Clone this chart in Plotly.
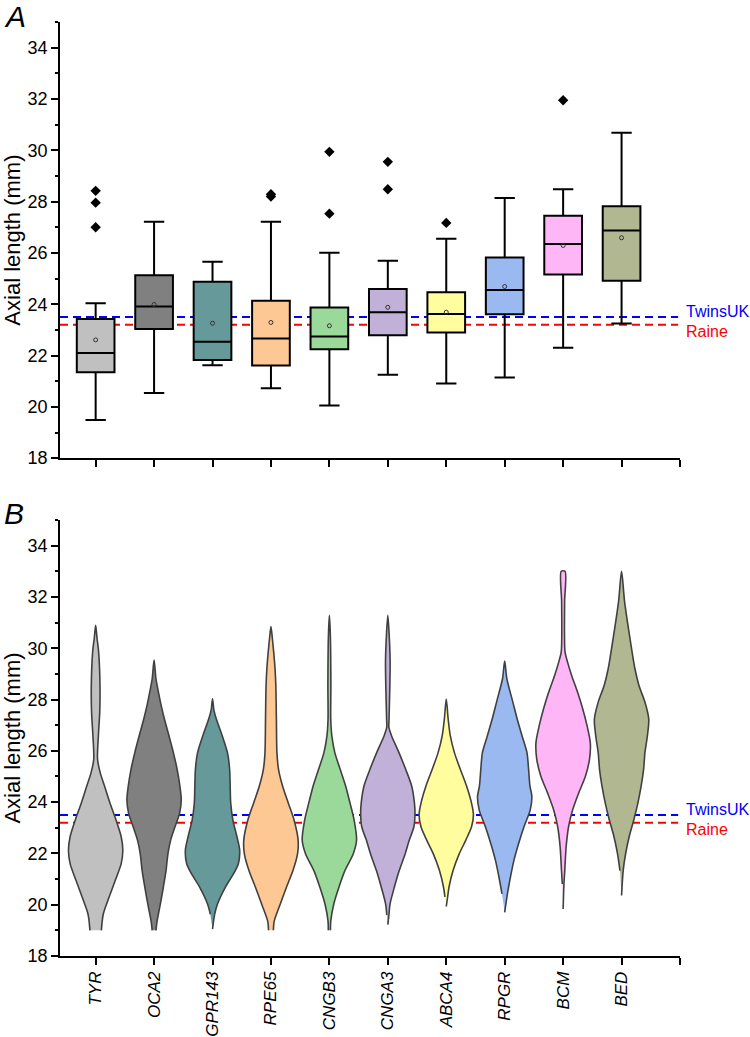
import plotly.graph_objects as go
from plotly.subplots import make_subplots

genes = ['TYR', 'OCA2', 'GPR143', 'RPE65', 'CNGB3', 'CNGA3', 'ABCA4', 'RPGR', 'BCM', 'BED']
colors = ['#c0c0c0', '#808080', '#669999', '#fdc894', '#9bd99b',
          '#c1b1d8', '#fffd9e', '#9ab9f0', '#ffb6f6', '#b1b891']

# box plot statistics (mm)
low_whisker = [19.49, 20.54, 21.62, 20.73, 20.05, 21.25, 20.91, 21.14, 22.30, 23.25]
q1 = [21.35, 23.03, 21.83, 21.61, 22.25, 22.79, 22.90, 23.61, 25.16, 24.92]
median = [22.10, 23.91, 22.54, 22.66, 22.74, 23.69, 23.62, 24.55, 26.35, 26.87]
q3 = [23.42, 25.13, 24.88, 24.14, 23.87, 24.59, 24.47, 25.82, 27.45, 27.82]
high_whisker = [24.04, 27.21, 25.66, 27.21, 26.01, 25.69, 26.55, 28.14, 28.48, 30.68]
mean = [22.61, 23.99, 23.26, 23.29, 23.16, 23.88, 23.69, 24.69, 26.29, 26.59]

outlier_gene = ['TYR', 'TYR', 'TYR', 'RPE65', 'RPE65', 'CNGB3', 'CNGB3',
                'CNGA3', 'CNGA3', 'ABCA4', 'BCM']
outlier_value = [28.42, 27.96, 27.00, 28.29, 28.20, 29.94, 27.53,
                 29.55, 28.48, 27.17, 31.95]

# reference means
twinsuk = 23.5
raine = 23.2

# violin density profiles: axial length levels and relative width (max = 1)
tyr_y = [19.0, 19.63, 20.28, 20.94, 21.6, 22.12, 22.65, 23.3, 23.96, 24.62, 25.14, 25.67, 26.58, 27.5, 28.55, 29.86, 30.4, 30.89]
tyr_w = [0.21, 0.28, 0.49, 0.72, 0.94, 1.0, 0.94, 0.75, 0.53, 0.33, 0.17, 0.07, 0.10, 0.15, 0.16, 0.11, 0.05, 0.0]
oca2_y = [19.0, 19.36, 20.02, 20.68, 21.33, 21.99, 22.52, 23.04, 23.57, 24.09, 24.62, 25.27, 25.93, 26.58, 27.24, 27.77, 28.29, 28.81, 29.54]
oca2_w = [0.07, 0.11, 0.23, 0.34, 0.44, 0.51, 0.61, 0.77, 0.94, 1.0, 0.95, 0.85, 0.71, 0.55, 0.38, 0.26, 0.16, 0.07, 0.0]
gpr143_y = [19.05, 19.63, 20.02, 20.68, 21.2, 21.6, 22.12, 22.65, 23.3, 23.96, 24.62, 25.27, 25.93, 26.58, 27.24, 27.6, 28.03]
gpr143_w = [0.0, 0.08, 0.18, 0.47, 0.77, 0.95, 1.0, 0.9, 0.75, 0.67, 0.65, 0.63, 0.55, 0.36, 0.14, 0.05, 0.0]
rpe65_y = [19.0, 19.36, 20.02, 20.68, 21.33, 21.99, 22.52, 23.3, 23.96, 24.62, 25.27, 25.93, 27.24, 28.55, 29.21, 29.86, 30.4, 30.85]
rpe65_w = [0.09, 0.12, 0.34, 0.57, 0.81, 0.98, 1.0, 0.85, 0.64, 0.43, 0.28, 0.22, 0.20, 0.18, 0.15, 0.10, 0.05, 0.0]
cngb3_y = [19.0, 19.36, 20.02, 20.68, 21.33, 21.99, 22.52, 23.3, 23.96, 24.62, 25.27, 25.93, 26.58, 27.24, 28.55, 30.52, 31.28]
cngb3_w = [0.04, 0.05, 0.16, 0.35, 0.57, 0.88, 1.0, 0.91, 0.76, 0.60, 0.40, 0.20, 0.09, 0.05, 0.055, 0.035, 0.0]
cnga3_y = [19.22, 19.6, 20.02, 20.68, 21.33, 21.99, 22.52, 23.04, 23.57, 23.96, 24.62, 25.27, 25.93, 26.58, 26.91, 27.24, 28.55, 29.5, 30.52, 31.28]
cnga3_w = [0.0, 0.04, 0.08, 0.24, 0.42, 0.64, 0.79, 0.96, 1.0, 0.98, 0.88, 0.66, 0.41, 0.14, 0.04, 0.045, 0.075, 0.085, 0.05, 0.0]
abca4_y = [19.93, 20.3, 20.68, 21.33, 21.99, 22.52, 23.04, 23.5, 23.96, 24.62, 25.27, 25.93, 26.58, 27.24, 28.02]
abca4_w = [0.0, 0.05, 0.10, 0.25, 0.48, 0.72, 0.93, 1.0, 0.93, 0.75, 0.52, 0.30, 0.15, 0.07, 0.0]
rpgr_y = [19.7, 20.42, 21.07, 21.73, 22.38, 23.04, 23.7, 24.22, 24.62, 25.27, 25.93, 26.58, 27.24, 27.9, 28.81, 29.5]
rpgr_w = [0.0, 0.10, 0.21, 0.34, 0.51, 0.71, 0.94, 1.0, 0.93, 0.88, 0.82, 0.64, 0.46, 0.30, 0.08, 0.0]
bcm_y = [19.83, 20.81, 21.33, 22.25, 23.04, 23.7, 24.35, 25.01, 25.67, 26.32, 26.98, 27.64, 28.29, 28.95, 29.47, 29.86, 30.52, 31.83, 33.0]
bcm_w = [0.0, 0.03, 0.06, 0.11, 0.20, 0.35, 0.57, 0.82, 0.97, 1.0, 0.88, 0.72, 0.53, 0.31, 0.16, 0.07, 0.05, 0.055, 0.07]
bed_y = [20.36, 21.33, 21.99, 22.65, 23.3, 23.96, 24.62, 25.27, 25.93, 26.58, 27.24, 27.9, 28.55, 29.21, 30.52, 31.83, 33.0]
bed_w = [0.0, 0.06, 0.15, 0.28, 0.45, 0.60, 0.72, 0.81, 0.86, 0.95, 1.0, 0.86, 0.64, 0.49, 0.29, 0.11, 0.0]

violin_y = [tyr_y, oca2_y, gpr143_y, rpe65_y, cngb3_y, cnga3_y, abca4_y, rpgr_y, bcm_y, bed_y]
violin_w = [tyr_w, oca2_w, gpr143_w, rpe65_w, cngb3_w, cnga3_w, abca4_w, rpgr_w, bcm_w, bed_w]

pos = list(range(1, len(genes) + 1))
font = 'Arial, Liberation Sans, sans-serif'
half_max = 0.465

fig = make_subplots(rows=2, cols=1)

# reference lines (drawn under the boxes / violins)
for row, xd in [(1, 'x domain'), (2, 'x2 domain')]:
    yr = 'y' if row == 1 else 'y2'
    for val, col in [(twinsuk, '#0000ff'), (raine, '#ff0000')]:
        fig.add_shape(type='line', xref=xd, yref=yr, x0=0, x1=0.997, y0=val, y1=val,
                      line=dict(color=col, width=2, dash='8px,5px'), layer='below')
    fig.add_annotation(xref=xd, yref=yr, x=1.006, y=twinsuk + 0.22, text='TwinsUK',
                       showarrow=False, xanchor='left', yanchor='middle',
                       font=dict(family=font, size=16, color='#0000ff'))
    fig.add_annotation(xref=xd, yref=yr, x=1.006, y=raine - 0.28, text='Raine',
                       showarrow=False, xanchor='left', yanchor='middle',
                       font=dict(family=font, size=16, color='#ff0000'))

# panel A: boxes
for i, g in enumerate(genes):
    fig.add_trace(go.Box(x=[pos[i]], q1=[q1[i]], median=[median[i]], q3=[q3[i]],
                         lowerfence=[low_whisker[i]], upperfence=[high_whisker[i]],
                         width=0.645, whiskerwidth=0.54, fillcolor=colors[i],
                         line=dict(color='black', width=2), boxpoints=False, name=g),
                  row=1, col=1)

fig.add_trace(go.Scatter(x=pos, y=mean, mode='markers',
                         marker=dict(symbol='circle-open', size=4, color='#333333',
                                     line=dict(width=1))),
              row=1, col=1)
fig.add_trace(go.Scatter(x=[pos[genes.index(g)] for g in outlier_gene], y=outlier_value,
                         mode='markers',
                         marker=dict(symbol='diamond', size=8, color='black')),
              row=1, col=1)

# panel B: violins
for i, g in enumerate(genes):
    ys, ws = violin_y[i], violin_w[i]
    right_x = [pos[i] + w * half_max for w in ws]
    left_x = [pos[i] - w * half_max for w in ws][::-1]
    left_y = ys[::-1]
    if ws[-1] == 0:
        left_x, left_y = left_x[1:], left_y[1:]
    if ws[0] == 0:
        left_x, left_y = left_x[:-1], left_y[:-1]
    fig.add_trace(go.Scatter(x=right_x + left_x, y=ys + left_y, mode='lines',
                             fill='toself', fillcolor=colors[i],
                             line=dict(color='#404040', width=1.6, shape='spline', smoothing=0.8),
                             name=g),
                  row=2, col=1)

xcommon = dict(range=[0.39, 11.0], tickmode='array', tickvals=list(range(1, 12)),
               ticks='outside', ticklen=7, tickwidth=1.5, tickcolor='black',
               showline=True, linewidth=1.6, linecolor='black',
               showgrid=False, zeroline=False, automargin=False)
ycommon = dict(range=[18, 35], tick0=18, dtick=2, ticks='outside', ticklen=7,
               tickwidth=1.5, tickcolor='black', showline=True, linewidth=1.6,
               linecolor='black', showgrid=False, zeroline=False, automargin=False,
               tickfont=dict(family=font, size=18, color='black'),
               minor=dict(dtick=1, ticks='outside', ticklen=3.5, tickwidth=1.5,
                          tickcolor='black', showgrid=False),
               title=dict(text='Axial length (mm)', standoff=6,
                          font=dict(family=font, size=22, color='black')))

fig.update_xaxes(**xcommon)
fig.update_xaxes(ticktext=[''] * 11, row=1, col=1)
fig.update_xaxes(ticktext=['<i>%s</i>' % g for g in genes] + [''], tickangle=-90,
                 tickfont=dict(family=font, size=17, color='black'), row=2, col=1)
fig.update_yaxes(**ycommon)

fig.update_layout(
    width=750, height=1037,
    margin=dict(l=60, r=70, t=22, b=81),
    plot_bgcolor='white', paper_bgcolor='white',
    showlegend=False, boxmode='overlay',
    font=dict(family=font, color='black'),
    yaxis=dict(domain=[0.533, 1.0]),
    yaxis2=dict(domain=[0.0, 0.4668]),
)

fig.add_annotation(xref='paper', yref='paper', x=-0.093, y=1.026, text='<i>A</i>',
                   showarrow=False, xanchor='left', yanchor='top',
                   font=dict(family=font, size=30, color='black'))
fig.add_annotation(xref='paper', yref='paper', x=-0.093, y=0.494, text='<i>B</i>',
                   showarrow=False, xanchor='left', yanchor='top',
                   font=dict(family=font, size=30, color='black'))

# drop the browser's default page margin so the figure sits at the top-left corner
fig.write_html('out.html', config={'displayModeBar': False},
               post_script="document.body.style.margin='0';")
